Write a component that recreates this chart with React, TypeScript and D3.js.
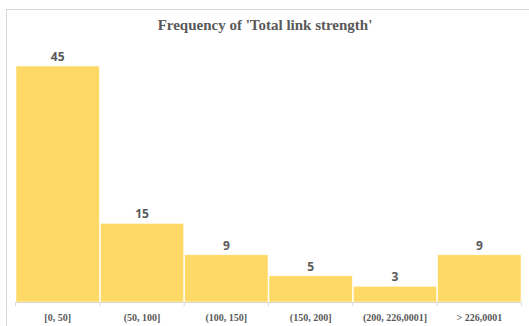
import React from "react";
import * as d3 from "d3";

const categories = ["[0, 50]", "(50, 100]", "(100, 150]", "(150, 200]", "(200, 226,0001]", "> 226,0001"];
const counts = [45, 15, 9, 5, 3, 9];
const title = "Frequency of 'Total link strength'";

export default function App() {
  const W = 529, H = 326;
  const x = d3.scaleBand<string>().domain(categories).range([15.5, 521.5]).paddingInner(0).paddingOuter(0);
  const y = d3.scaleLinear().domain([0, 45]).range([302, 66]);
  const gray = "#595959";
  return (
    <svg width={W} height={H} style={{ position: "absolute", left: 0, top: 0, background: "#fff" }}>
      <rect x={6.5} y={9.5} width={W + 10} height={H + 10} fill="#fff" stroke="#d9d9d9" strokeWidth={1} />
      <text x={265} y={30} textAnchor="middle" fontFamily="'Liberation Serif', serif" fontWeight="bold" fontSize={15} fill={gray}>
        {title}
      </text>
      {categories.map((c, i) => (
        <rect key={c} x={x(c)! + 0.5} y={y(counts[i])} width={x.bandwidth() - 1} height={y(0) - y(counts[i])} fill="#FFD966" stroke="#ffffff" strokeWidth={0.5} />
      ))}
      <line x1={15.5} x2={521.5} y1={302.5} y2={302.5} stroke="#d9d9d9" />
      {d3.range(categories.length + 1).map((i) => {
        const xx = i < categories.length ? x(categories[i])! : x(categories[categories.length - 1])! + x.bandwidth();
        return <line key={i} x1={xx} x2={xx} y1={302.5} y2={306} stroke="#d9d9d9" />;
      })}
      {categories.map((c, i) => (
        <text key={"v" + c} x={x(c)! + x.bandwidth() / 2} y={y(counts[i]) - 5} textAnchor="middle" fontFamily="'Open Sans', sans-serif" fontWeight="bold" fontSize={12} fill={gray}>
          {counts[i]}
        </text>
      ))}
      {categories.map((c) => (
        <text key={"c" + c} x={x(c)! + x.bandwidth() / 2} y={321} textAnchor="middle" fontFamily="'Liberation Serif', serif" fontWeight="bold" fontSize={10} fill={gray}>
          {c}
        </text>
      ))}
    </svg>
  );
}
